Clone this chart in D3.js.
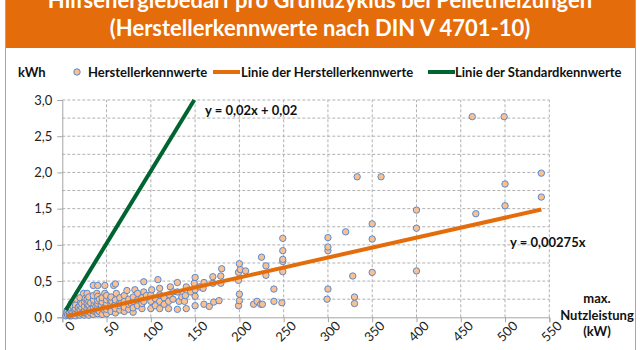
<!DOCTYPE html>
<html><head><meta charset="utf-8">
<script src="https://cdn.jsdelivr.net/npm/d3@7"></script>
<style>html,body{margin:0;padding:0;background:#fff;}svg{display:block;font-family:Lato,"Open Sans",sans-serif;}</style>
</head><body>
<script>
const titleLines = ["Hilfsenergiebedarf pro Grundzyklus bei Pelletheizungen", "(Herstellerkennwerte nach DIN V 4701-10)"];
const legendLabels = ["Herstellerkennwerte", "Linie der Herstellerkennwerte", "Linie der Standardkennwerte"];
const xTicks = [0,50,100,150,200,250,300,350,400,450,500,550];
const yTicks = [0,0.5,1.0,1.5,2.0,2.5,3.0];
const yGrid = [0.25,0.5,0.75,1.0,1.25,1.5,1.75,2.0,2.25,2.5,2.75,3.0];
const yUnit = "kWh";
const xUnit = ["max.", "Nutzleistung", "(kW)"];
// trend lines: [slope, intercept, xStart, xEnd]
const herstellerLine = [0.00275, 0, 5, 541];
const standardLine = [0.02, 0.02, 4, 149];
const herstellerEq = "y = 0,00275x";
const standardEq = "y = 0,02x + 0,02";
// manufacturer values [kW, kWh]
const points = [
[4,0.02],[5,0.05],[5,0.08],[6,0.03],[6,0.10],[8,0.02],[8,0.04],[8,0.07],[8,0.12],
[10,0.02],[10,0.05],[10,0.09],[10,0.13],[10,0.19],[12,0.03],[12,0.07],[12,0.15],
[14,0.04],[14,0.10],[14,0.20],[15,0.02],[15,0.06],[15,0.12],[15,0.17],[16,0.25],
[18,0.04],[18,0.09],[18,0.14],[20,0.03],[20,0.07],[20,0.11],[20,0.16],[21,0.21],[20,0.27],
[22,0.05],[22,0.13],[22,0.19],[24,0.08],[24,0.33],[25,0.03],[25,0.06],[25,0.10],[25,0.15],[25,0.22],[26,0.26],
[28,0.05],[28,0.12],[28,0.19],[28,0.25],[28,0.33],[30,0.03],[30,0.08],[30,0.14],[30,0.17],[30,0.22],[30,0.28],
[32,0.06],[32,0.11],[32,0.20],[35,0.04],[35,0.09],[35,0.13],[36,0.18],[35,0.24],[35,0.30],[35,0.44],
[38,0.07],[38,0.15],[39,0.33],[40,0.05],[40,0.10],[40,0.14],[40,0.19],[40,0.23],[40,0.29],[40,0.44],
[42,0.08],[42,0.25],[45,0.04],[45,0.12],[44,0.17],[45,0.21],[45,0.27],[48,0.09],[48,0.14],[48,0.33],[48,0.44],
[50,0.05],[50,0.11],[50,0.16],[50,0.19],[50,0.24],[50,0.30],[54,0.13],[54,0.25],[55,0.08],[55,0.18],[56,0.22],[55,0.28],
[58,0.44],[58,0.15],[60,0.06],[60,0.12],[60,0.19],[60,0.24],[61,0.33],[60,0.46],
[65,0.10],[65,0.16],[65,0.21],[65,0.27],[66,0.19],[70,0.08],[70,0.14],[70,0.22],[70,0.30],[73,0.37],
[75,0.11],[75,0.18],[75,0.25],[78,0.19],[80,0.07],[80,0.13],[80,0.22],[80,0.28],[82,0.38],
[85,0.16],[85,0.24],[85,0.33],[90,0.12],[90,0.19],[90,0.27],[92,0.35],[92,0.49],[92,0.22],[95,0.30],
[100,0.12],[100,0.22],[100,0.31],[101,0.38],[105,0.26],[105,0.16],[108,0.52],
[110,0.12],[110,0.22],[110,0.31],[110,0.40],[115,0.27],[115,0.18],
[120,0.12],[120,0.22],[121,0.31],[122,0.42],[125,0.35],[125,0.25],
[130,0.11],[132,0.22],[130,0.35],[130,0.48],[135,0.28],[140,0.12],[138,0.22],[139,0.30],[140,0.42],[145,0.35],
[150,0.16],[150,0.29],[150,0.38],[149,0.47],[150,0.55],[155,0.42],[160,0.18],[159,0.40],[160,0.48],
[166,0.15],[170,0.47],[170,0.56],[171,0.21],[177,0.23],[179,0.47],[179,0.57],[180,0.67],
[199,0.16],[200,0.23],[200,0.32],[199,0.51],[199,0.62],[201,0.66],[200,0.74],[207,0.64],
[216,0.18],[220,0.22],[224,0.18],[226,0.18],[225,0.83],[230,0.71],[230,0.58],
[239,0.39],[239,0.22],[248,0.20],[249,0.63],[249,0.77],[249,0.80],[249,0.92],[249,1.09],
[299,0.25],[300,0.39],[300,0.92],[300,0.97],[300,1.10],[320,1.18],[328,0.57],[330,0.28],[330,0.19],[333,1.94],
[350,0.62],[350,1.08],[350,1.29],[360,1.94],[400,0.64],[400,1.23],[400,1.48],
[463,2.77],[467,1.43],[499,2.77],[500,1.54],[500,1.84],[541,1.66],[541,1.99]
];

const W = 640, H = 350;
const svg = d3.select("body").append("svg").attr("width", W).attr("height", H);
const x = d3.scaleLinear().domain([0,550]).range([62.3,549.3]);
const y = d3.scaleLinear().domain([0,3]).range([317.3,100]);
const fmt = v => d3.format(".1f")(v).replace(".", ",");

// frame and title band
svg.append("rect").attr("x",5.5).attr("y",-2).attr("width",630).attr("height",H+5).attr("fill","#fff").attr("stroke","#a6a6a6");
svg.append("rect").attr("x",6).attr("y",0).attr("width",629).attr("height",48).attr("fill","#E46C0A");
svg.selectAll("text.title").data(titleLines).join("text").attr("class","title")
  .attr("x",320).attr("y",(d,i)=>8+i*28).attr("text-anchor","middle")
  .attr("fill","#fff").attr("font-size",22).attr("font-weight","bold").text(d=>d);

// grid
const g = svg.append("g");
g.selectAll("line.hg").data(yGrid).join("line").attr("class","hg")
  .attr("x1",x(0)).attr("x2",x(550)).attr("y1",d=>y(d)).attr("y2",d=>y(d))
  .attr("stroke","#b0b0b0").attr("stroke-dasharray","3,2").attr("stroke-width",1);
g.selectAll("line.vg").data(xTicks.slice(1)).join("line").attr("class","vg")
  .attr("x1",d=>x(d)).attr("x2",d=>x(d)).attr("y1",y(0)).attr("y2",y(3))
  .attr("stroke","#b0b0b0").attr("stroke-dasharray","3,2").attr("stroke-width",1);

// axes
const xAxis = d3.axisBottom(x).tickValues(xTicks).tickSize(5).tickFormat(d=>d);
const xa = svg.append("g").attr("transform",`translate(0,${y(0)})`).call(xAxis);
xa.select(".domain").attr("stroke","#a6a6a6");
xa.selectAll(".tick line").attr("stroke","#a6a6a6");
xa.selectAll(".tick text").attr("font-size",13).attr("fill","#222").attr("font-family","Lato")
  .attr("text-anchor","end").attr("dx","0.2em").attr("dy","0.9em").attr("y",4)
  .attr("transform","rotate(-45)");
const yAxis = d3.axisLeft(y).tickValues(yTicks).tickSize(5).tickFormat(fmt);
const ya = svg.append("g").attr("transform",`translate(${x(0)},0)`).call(yAxis);
ya.select(".domain").attr("stroke","#a6a6a6");
ya.selectAll(".tick line").attr("stroke","#a6a6a6");
ya.selectAll(".tick text").attr("font-size",13).attr("fill","#222").attr("font-family","Lato").attr("x",-10);

// points
svg.append("g").selectAll("circle").data(points).join("circle")
  .attr("cx",d=>x(d[0])).attr("cy",d=>y(d[1])).attr("r",3.2)
  .attr("fill","#FAC090").attr("stroke","#5A8AD0").attr("stroke-width",1);

// lines
const lineGen = d3.line().x(d=>x(d[0])).y(d=>y(d[1]));
function lineData(p){ return [[p[2], p[0]*p[2]+p[1]],[p[3], p[0]*p[3]+p[1]]]; }
svg.append("path").datum(lineData(herstellerLine)).attr("d",lineGen).attr("stroke","#E46C0A").attr("stroke-width",4).attr("fill","none");
svg.append("path").datum(lineData(standardLine)).attr("d",lineGen).attr("stroke","#006430").attr("stroke-width",4).attr("fill","none");

// equations
svg.append("text").attr("x",205).attr("y",115).attr("font-size",13).attr("font-weight","bold").attr("fill","#111").text(standardEq);
svg.append("text").attr("x",510).attr("y",247).attr("font-size",13).attr("font-weight","bold").attr("fill","#111").text(herstellerEq);

// unit labels
svg.append("text").attr("x",18).attr("y",77).attr("font-size",13).attr("font-weight","bold").attr("fill","#111").text(yUnit);
svg.selectAll("text.xu").data(xUnit).join("text").attr("class","xu")
  .attr("x",597).attr("y",(d,i)=>303+i*16.5).attr("text-anchor","middle")
  .attr("font-size",13).attr("font-weight","bold").attr("fill","#111").text(d=>d);

// legend
const lg = svg.append("g");
lg.append("circle").attr("cx",77).attr("cy",72).attr("r",3.2).attr("fill","#FAC090").attr("stroke","#5A8AD0");
lg.append("text").attr("x",88).attr("y",77).attr("font-size",13).attr("font-weight","bold").attr("fill","#111").text(legendLabels[0]);
lg.append("line").attr("x1",213).attr("x2",240).attr("y1",72).attr("y2",72).attr("stroke","#E46C0A").attr("stroke-width",4);
lg.append("text").attr("x",241).attr("y",77).attr("font-size",13).attr("font-weight","bold").attr("fill","#111").text(legendLabels[1]);
lg.append("line").attr("x1",428).attr("x2",455).attr("y1",72).attr("y2",72).attr("stroke","#006430").attr("stroke-width",4);
lg.append("text").attr("x",455).attr("y",77).attr("font-size",13).attr("font-weight","bold").attr("fill","#111").text(legendLabels[2]);
</script>
</body></html>
